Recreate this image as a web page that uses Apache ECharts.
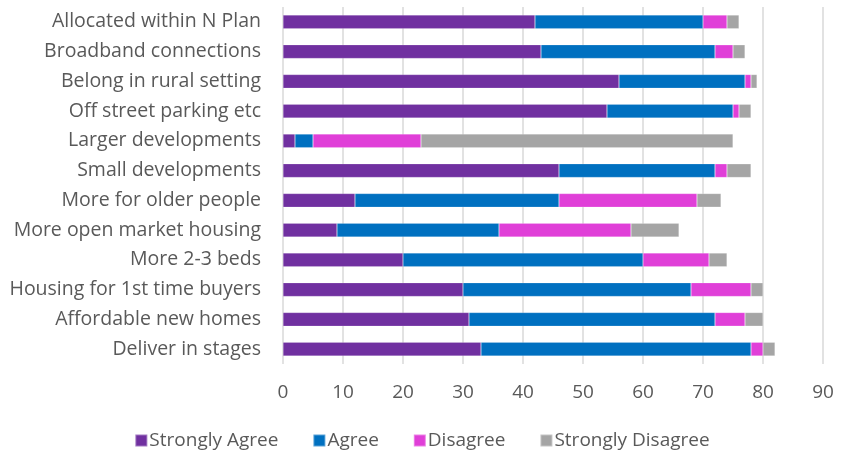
<!DOCTYPE html>
<html>
<head>
<meta charset="utf-8">
<script src="https://cdn.jsdelivr.net/npm/echarts@6/dist/echarts.min.js"></script>
<style>html,body{margin:0;padding:0;background:#fff;}#c{width:844px;height:452px;}</style>
</head>
<body>
<div id="c"></div>
<script>
var categories = ["Allocated within N Plan","Broadband connections","Belong in rural setting","Off street parking etc","Larger developments","Small developments","More for older people","More open market housing","More 2-3 beds","Housing for 1st time buyers","Affordable new homes","Deliver in stages"];
var stronglyAgree    = [42,43,56,54,2,46,12,9,20,30,31,33];
var agree            = [28,29,21,21,3,26,34,27,40,38,41,45];
var disagree         = [4,3,1,1,18,2,23,22,11,10,5,2];
var stronglyDisagree = [2,2,1,2,52,4,4,8,3,2,3,2];
var seriesNames = ["Strongly Agree","Agree","Disagree","Strongly Disagree"];
var colors = ["#7030A0","#0070C0","#E03FD8","#A5A5A5"];

var FONT = "Open Sans";
var chart = echarts.init(document.getElementById('c'), null, {renderer:'canvas'});
var data = [stronglyAgree, agree, disagree, stronglyDisagree];
var series = seriesNames.map(function(n,i){
  return {name:n,type:'bar',stack:'total',data:data[i],barWidth:'46%',
    itemStyle:{color:colors[i],borderColor:'rgba(255,255,255,0.35)',borderWidth:0.5}};
});
chart.setOption({
  animation:false,
  color:colors,
  grid:{left:283,right:21,top:7,bottom:88,containLabel:false},
  legend:{bottom:-3,left:'center',itemWidth:12,itemHeight:12,itemGap:34,icon:'rect',
    textStyle:{fontFamily:FONT,fontSize:19,color:'#595959',padding:[0,0,0,-3]},
    data:seriesNames},
  xAxis:{type:'value',min:0,max:90,interval:10,
    axisLine:{show:false},axisTick:{show:false},
    axisLabel:{fontFamily:FONT,fontSize:19,color:'#595959',margin:19},
    splitLine:{show:true,lineStyle:{color:'#D9D9D9',width:1.5}}},
  yAxis:{type:'category',data:categories,inverse:true,
    axisLine:{show:false},axisTick:{show:false},
    axisLabel:{fontFamily:FONT,fontSize:19.5,color:'#595959',margin:22}},
  series:series
});
</script>
</body>
</html>
